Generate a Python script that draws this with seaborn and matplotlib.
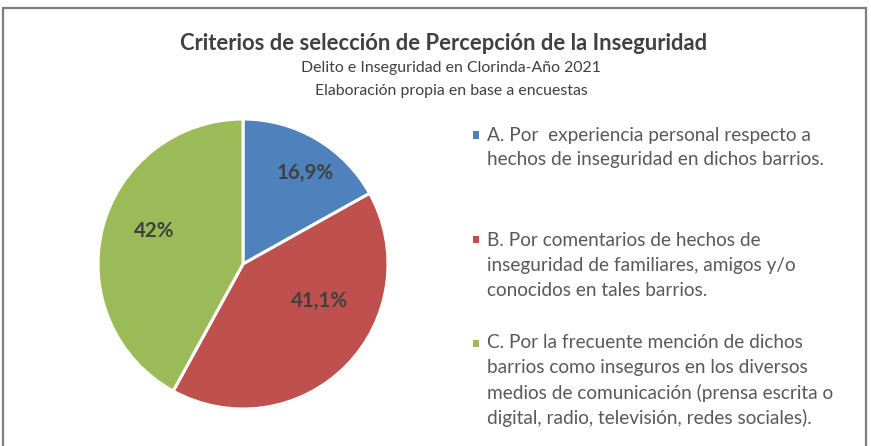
import numpy as np
import matplotlib.pyplot as plt
import seaborn as sns
from matplotlib.patches import Rectangle

# ========== 数据 ==========
categorias = [
    "A. Por  experiencia personal respecto a\nhechos de inseguridad en dichos barrios.",
    "B. Por comentarios de hechos de\ninseguridad de familiares, amigos y/o\nconocidos en tales barrios.",
    "C. Por la frecuente mención de dichos\nbarrios como inseguros en los diversos\nmedios de comunicación (prensa escrita o\ndigital, radio, televisión, redes sociales).",
]
porcentajes = [16.9, 41.1, 42.0]
titulo = "Criterios de selección de Percepción de la Inseguridad"
subtitulos = ["Delito e Inseguridad en Clorinda-Año 2021",
              "Elaboración propia en base a encuestas"]

# ========== 样式 ==========
sns.set_theme(style="white")
plt.rcParams['font.family'] = ['Lato', 'DejaVu Sans']
colores = ['#4F81BD', '#C0504D', '#9BBB59']
C_TEXT = '#404040'
C_LEG = '#595959'

W, H = 871, 446
fig = plt.figure(figsize=(W / 100, H / 100), dpi=100)
fig.patch.set_facecolor('white')

# marco gris
fig.add_artist(Rectangle((3 / W, -0.05), 863 / W, 1.05 - 8 / H, transform=fig.transFigure,
                         fill=False, edgecolor='#7f7f7f', linewidth=1.6))

# títulos
fig.text(444 / W, 1 - 43 / H, titulo, ha='center', va='center', fontsize=15.8,
         fontweight='bold', color=C_TEXT)
for i, s in enumerate(subtitulos):
    fig.text(451 / W, 1 - (68 + 23 * i) / H, s, ha='center', va='center',
             fontsize=11.4, color=C_TEXT)

# ========== 饼图 ==========
cx, cy, r = 243, 264, 145
ax = fig.add_axes([(cx - r) / W, (H - cy - r) / H, 2 * r / W, 2 * r / H])
wedges, _ = ax.pie(porcentajes, colors=colores, startangle=90, counterclock=False,
                   wedgeprops=dict(edgecolor='white', linewidth=2.2))
ax.set_xlim(-1, 1)
ax.set_ylim(-1, 1)
ax.set_aspect('equal')
ax.axis('off')

# etiquetas de datos (ajuste angular y distancia tipo Excel)
ajustes = [(-4, 0.76), (19, 0.59), (-6, 0.65)]
for w, v, (dt, dist) in zip(wedges, porcentajes, ajustes):
    ang = np.deg2rad((w.theta1 + w.theta2) / 2 + dt)
    txt = f"{v:g}".replace('.', ',') + '%'
    ax.text(dist * np.cos(ang), dist * np.sin(ang), txt, ha='center', va='center',
            fontsize=14.8, fontweight='bold', color=C_TEXT)

# ========== leyenda ==========
centros = [147.5, 265, 380.5]
paso = 25
for lab, col, yc in zip(categorias, colores, centros):
    lineas = lab.split('\n')
    y0 = yc - (len(lineas) - 1) / 2 * paso
    fig.add_artist(Rectangle(((476 - 3.5) / W, 1 - (y0 + 3.5) / H), 7 / W, 7 / H,
                             transform=fig.transFigure, facecolor=col, edgecolor='none'))
    for j, ln in enumerate(lineas):
        fig.text(487 / W, 1 - (y0 + j * paso) / H, ln, ha='left', va='center',
                 fontsize=13.7, color=C_LEG)

plt.savefig('out.png', dpi=100)
